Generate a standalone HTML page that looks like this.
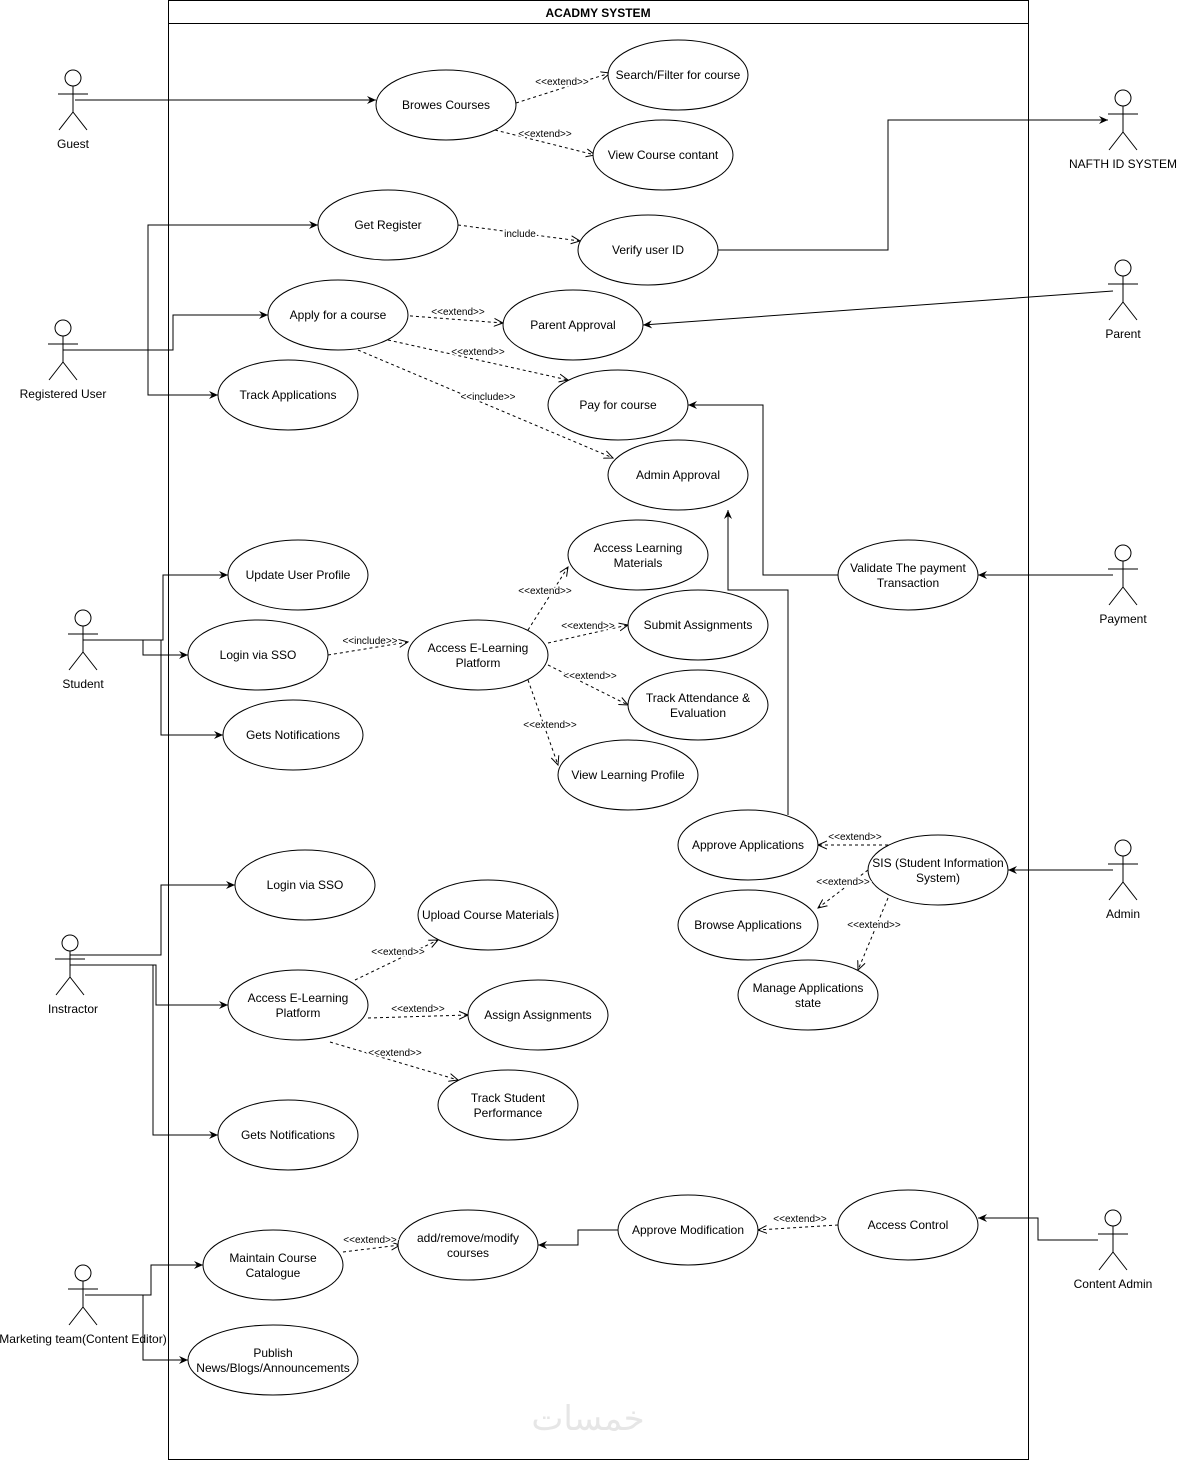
<!DOCTYPE html>
<html><head><meta charset="utf-8"><style>
html,body{margin:0;padding:0;background:#fff;}
svg{display:block;font-family:"Liberation Sans","Noto Sans CJK SC",sans-serif;}
.e{fill:#fff;stroke:#000;stroke-width:1;}
.t{font-size:12px;text-anchor:middle;fill:#000;}
.l{font-size:10px;text-anchor:middle;fill:#000;}
.s{fill:none;stroke:#000;stroke-width:1;}
.d{fill:none;stroke:#000;stroke-width:1;stroke-dasharray:3,3;}
.a{font-size:12px;text-anchor:middle;fill:#000;}
</style></head><body>
<svg width="1178" height="1461" viewBox="0 0 1178 1461" xmlns="http://www.w3.org/2000/svg">
<defs>
<marker id="f" markerWidth="10" markerHeight="10" refX="9" refY="5" orient="auto" markerUnits="userSpaceOnUse"><path d="M0,1 L9,5 L0,9 L3,5 Z" fill="#000"/></marker>
<marker id="o" markerWidth="10" markerHeight="10" refX="9" refY="5" orient="auto" markerUnits="userSpaceOnUse"><path d="M0,1 L9,5 L0,9" fill="none" stroke="#000"/></marker>
<g id="act"><circle cx="0" cy="0" r="8" fill="#fff" stroke="#000"/><path d="M0,8 V34 M-15,16 H15 M0,34 L-14,52 M0,34 L14,52" fill="none" stroke="#000"/></g>
</defs>
<rect x="168.5" y="0.5" width="860" height="1459" fill="#fff" stroke="#000"/>
<line x1="168.5" y1="23.5" x2="1028.5" y2="23.5" stroke="#000"/>
<text x="598" y="17" style="font-size:12px;font-weight:bold;text-anchor:middle">ACADMY SYSTEM</text>
<text x="588" y="1430" style="font-size:34px;text-anchor:middle;fill:#e6e6e6;font-family:'DejaVu Sans',sans-serif">خمسات</text>

<!-- actors -->
<use href="#act" x="73" y="78"/><text class="a" x="73" y="148">Guest</text>
<use href="#act" x="63" y="328"/><text class="a" x="63" y="398">Registered User</text>
<use href="#act" x="83" y="618"/><text class="a" x="83" y="688">Student</text>
<use href="#act" x="70" y="943"/><text class="a" x="73" y="1013">Instractor</text>
<use href="#act" x="83" y="1273"/><text class="a" x="83" y="1343">Marketing team(Content Editor)</text>
<use href="#act" x="1123" y="98"/><text class="a" x="1123" y="168">NAFTH ID SYSTEM</text>
<use href="#act" x="1123" y="268"/><text class="a" x="1123" y="338">Parent</text>
<use href="#act" x="1123" y="553"/><text class="a" x="1123" y="623">Payment</text>
<use href="#act" x="1123" y="848"/><text class="a" x="1123" y="918">Admin</text>
<use href="#act" x="1113" y="1218"/><text class="a" x="1113" y="1288">Content Admin</text>

<!-- solid connectors -->
<path class="s" marker-end="url(#f)" d="M75,100 H376"/>
<path class="s" marker-end="url(#f)" d="M63,350 H173 V315 H268"/>
<path class="s" marker-end="url(#f)" d="M148,350 V225 H318"/>
<path class="s" marker-end="url(#f)" d="M148,350 V395 H218"/>
<path class="s" marker-end="url(#f)" d="M718,250 H888 V120 H1108"/>
<path class="s" marker-end="url(#f)" d="M1113,291 L643,325"/>
<path class="s" marker-end="url(#f)" d="M1113,575 H978"/>
<path class="s" marker-end="url(#f)" d="M838,575 H763 V405 H688"/>
<path class="s" marker-end="url(#f)" d="M1113,870 H1008"/>
<path class="s" marker-end="url(#f)" d="M788,815 V590 H728 V510"/>
<path class="s" marker-end="url(#f)" d="M83,640 H163 V575 H228"/>
<path class="s" marker-end="url(#f)" d="M143,640 V655 H188"/>
<path class="s" marker-end="url(#f)" d="M161,640 V735 H223"/>
<path class="s" marker-end="url(#f)" d="M70,955 H161 V885 H235"/>
<path class="s" marker-end="url(#f)" d="M70,965 H156 V1005 H228"/>
<path class="s" marker-end="url(#f)" d="M153,965 V1135 H218"/>
<path class="s" marker-end="url(#f)" d="M85,1295 H151 V1265 H203"/>
<path class="s" marker-end="url(#f)" d="M143,1295 V1360 H188"/>
<path class="s" marker-end="url(#f)" d="M1098,1240 H1038 V1218 H978"/>
<path class="s" marker-end="url(#f)" d="M618,1230 H578 V1245 H538"/>

<!-- dashed connectors -->
<path class="d" marker-end="url(#o)" d="M516,103 L610,73"/>
<path class="d" marker-end="url(#o)" d="M495,130 L595,155"/>
<path class="d" marker-end="url(#o)" d="M458,225 L580,241"/>
<path class="d" marker-end="url(#o)" d="M398,315 L503,323"/>
<path class="d" marker-end="url(#o)" d="M388,340 L568,380"/>
<path class="d" marker-end="url(#o)" d="M358,350 L613,458"/>
<path class="d" marker-end="url(#o)" d="M328,655 L408,642"/>
<path class="d" marker-end="url(#o)" d="M528,630 L568,567"/>
<path class="d" marker-end="url(#o)" d="M548,643 L628,625"/>
<path class="d" marker-end="url(#o)" d="M548,665 L628,705"/>
<path class="d" marker-end="url(#o)" d="M528,680 L558,765"/>
<path class="d" marker-end="url(#o)" d="M888,845 L818,845"/>
<path class="d" marker-end="url(#o)" d="M868,870 L818,908"/>
<path class="d" marker-end="url(#o)" d="M888,898 L858,970"/>
<path class="d" marker-end="url(#o)" d="M355,980 L438,940"/>
<path class="d" marker-end="url(#o)" d="M368,1018 L468,1015"/>
<path class="d" marker-end="url(#o)" d="M330,1042 L458,1080"/>
<path class="d" marker-end="url(#o)" d="M838,1225 L758,1230"/>
<path class="d" marker-end="url(#o)" d="M343,1252 L400,1245"/>

<!-- ellipses -->
<g>
<ellipse class="e" cx="446" cy="105" rx="70" ry="35"/><text class="t" x="446" y="109">Browes Courses</text>
<ellipse class="e" cx="678" cy="75" rx="70" ry="35"/><text class="t" x="678" y="79">Search/Filter for course</text>
<ellipse class="e" cx="663" cy="155" rx="70" ry="35"/><text class="t" x="663" y="159">View Course contant</text>
<ellipse class="e" cx="388" cy="225" rx="70" ry="35"/><text class="t" x="388" y="229">Get Register</text>
<ellipse class="e" cx="648" cy="250" rx="70" ry="35"/><text class="t" x="648" y="254">Verify user ID</text>
<ellipse class="e" cx="338" cy="315" rx="70" ry="35"/><text class="t" x="338" y="319">Apply for a course</text>
<ellipse class="e" cx="573" cy="325" rx="70" ry="35"/><text class="t" x="573" y="329">Parent Approval</text>
<ellipse class="e" cx="288" cy="395" rx="70" ry="35"/><text class="t" x="288" y="399">Track Applications</text>
<ellipse class="e" cx="618" cy="405" rx="70" ry="35"/><text class="t" x="618" y="409">Pay for course</text>
<ellipse class="e" cx="678" cy="475" rx="70" ry="35"/><text class="t" x="678" y="479">Admin Approval</text>
<ellipse class="e" cx="638" cy="555" rx="70" ry="35"/><text class="t" x="638" y="552">Access Learning</text><text class="t" x="638" y="567">Materials</text>
<ellipse class="e" cx="298" cy="575" rx="70" ry="35"/><text class="t" x="298" y="579">Update User Profile</text>
<ellipse class="e" cx="908" cy="575" rx="70" ry="35"/><text class="t" x="908" y="572">Validate The payment</text><text class="t" x="908" y="587">Transaction</text>
<ellipse class="e" cx="698" cy="625" rx="70" ry="35"/><text class="t" x="698" y="629">Submit Assignments</text>
<ellipse class="e" cx="258" cy="655" rx="70" ry="35"/><text class="t" x="258" y="659">Login via SSO</text>
<ellipse class="e" cx="478" cy="655" rx="70" ry="35"/><text class="t" x="478" y="652">Access E-Learning</text><text class="t" x="478" y="667">Platform</text>
<ellipse class="e" cx="698" cy="705" rx="70" ry="35"/><text class="t" x="698" y="702">Track Attendance &amp;</text><text class="t" x="698" y="717">Evaluation</text>
<ellipse class="e" cx="293" cy="735" rx="70" ry="35"/><text class="t" x="293" y="739">Gets Notifications</text>
<ellipse class="e" cx="628" cy="775" rx="70" ry="35"/><text class="t" x="628" y="779">View Learning Profile</text>
<ellipse class="e" cx="748" cy="845" rx="70" ry="35"/><text class="t" x="748" y="849">Approve Applications</text>
<ellipse class="e" cx="938" cy="870" rx="70" ry="35"/><text class="t" x="938" y="867">SIS (Student Information</text><text class="t" x="938" y="882">System)</text>
<ellipse class="e" cx="305" cy="885" rx="70" ry="35"/><text class="t" x="305" y="889">Login via SSO</text>
<ellipse class="e" cx="488" cy="915" rx="70" ry="35"/><text class="t" x="488" y="919">Upload Course Materials</text>
<ellipse class="e" cx="748" cy="925" rx="70" ry="35"/><text class="t" x="748" y="929">Browse Applications</text>
<ellipse class="e" cx="808" cy="995" rx="70" ry="35"/><text class="t" x="808" y="992">Manage Applications</text><text class="t" x="808" y="1007">state</text>
<ellipse class="e" cx="298" cy="1005" rx="70" ry="35"/><text class="t" x="298" y="1002">Access E-Learning</text><text class="t" x="298" y="1017">Platform</text>
<ellipse class="e" cx="538" cy="1015" rx="70" ry="35"/><text class="t" x="538" y="1019">Assign Assignments</text>
<ellipse class="e" cx="508" cy="1105" rx="70" ry="35"/><text class="t" x="508" y="1102">Track Student</text><text class="t" x="508" y="1117">Performance</text>
<ellipse class="e" cx="288" cy="1135" rx="70" ry="35"/><text class="t" x="288" y="1139">Gets Notifications</text>
<ellipse class="e" cx="908" cy="1225" rx="70" ry="35"/><text class="t" x="908" y="1229">Access Control</text>
<ellipse class="e" cx="688" cy="1230" rx="70" ry="35"/><text class="t" x="688" y="1234">Approve Modification</text>
<ellipse class="e" cx="273" cy="1265" rx="70" ry="35"/><text class="t" x="273" y="1262">Maintain Course</text><text class="t" x="273" y="1277">Catalogue</text>
<ellipse class="e" cx="468" cy="1245" rx="70" ry="35"/><text class="t" x="468" y="1242">add/remove/modify</text><text class="t" x="468" y="1257">courses</text>
<ellipse class="e" cx="273" cy="1360" rx="85" ry="35"/><text class="t" x="273" y="1357">Publish</text><text class="t" x="273" y="1372">News/Blogs/Announcements</text>
</g>

<!-- connector labels -->
<g class="l" style="paint-order:stroke;stroke:#fff;stroke-width:3px">
<text x="562" y="85">&lt;&lt;extend&gt;&gt;</text>
<text x="545" y="137">&lt;&lt;extend&gt;&gt;</text>
<text x="520" y="237">include</text>
<text x="458" y="315">&lt;&lt;extend&gt;&gt;</text>
<text x="478" y="355">&lt;&lt;extend&gt;&gt;</text>
<text x="488" y="400">&lt;&lt;include&gt;&gt;</text>
<text x="370" y="644">&lt;&lt;include&gt;&gt;</text>
<text x="545" y="594">&lt;&lt;extend&gt;&gt;</text>
<text x="588" y="629">&lt;&lt;extend&gt;&gt;</text>
<text x="590" y="679">&lt;&lt;extend&gt;&gt;</text>
<text x="550" y="728">&lt;&lt;extend&gt;&gt;</text>
<text x="855" y="840">&lt;&lt;extend&gt;&gt;</text>
<text x="843" y="885">&lt;&lt;extend&gt;&gt;</text>
<text x="874" y="928">&lt;&lt;extend&gt;&gt;</text>
<text x="398" y="955">&lt;&lt;extend&gt;&gt;</text>
<text x="418" y="1012">&lt;&lt;extend&gt;&gt;</text>
<text x="395" y="1056">&lt;&lt;extend&gt;&gt;</text>
<text x="800" y="1222">&lt;&lt;extend&gt;&gt;</text>
<text x="370" y="1243">&lt;&lt;extend&gt;&gt;</text>
</g>
</svg>
</body></html>
